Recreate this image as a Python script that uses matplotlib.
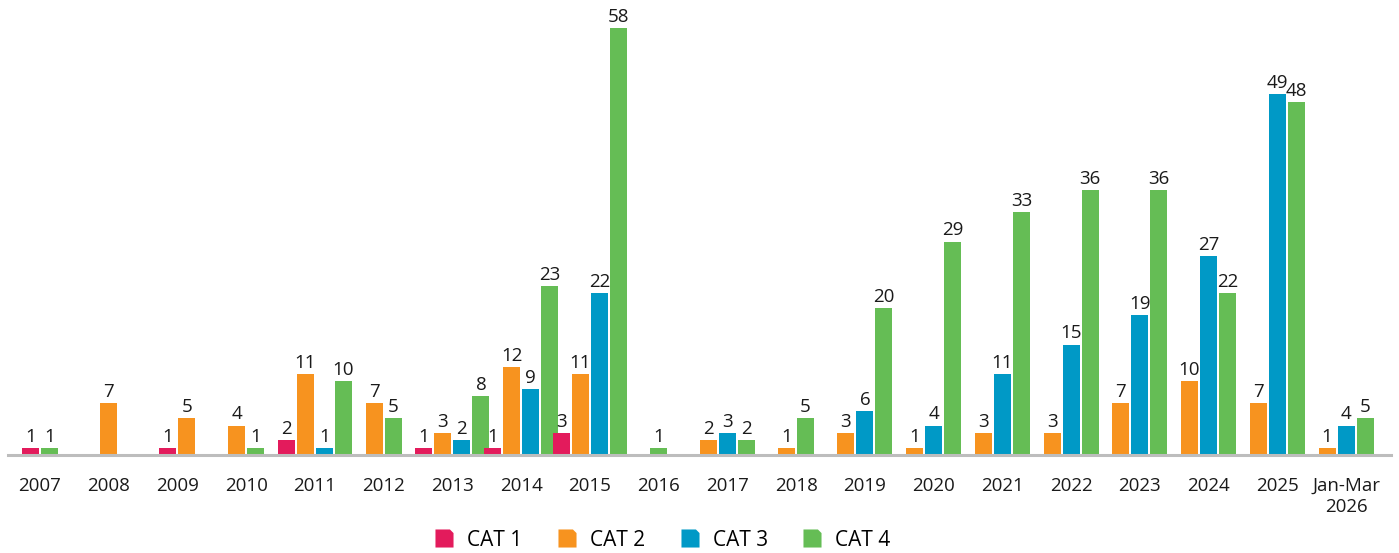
import matplotlib
matplotlib.use("Agg")
import matplotlib.pyplot as plt
from matplotlib.path import Path
from matplotlib.lines import Line2D

plt.rcParams['font.family'] = ['Open Sans', 'DejaVu Sans']

# data
years = ['2007', '2008', '2009', '2010', '2011', '2012', '2013', '2014', '2015', '2016',
         '2017', '2018', '2019', '2020', '2021', '2022', '2023', '2024', '2025', 'Jan-Mar\n2026']
cat1 = [1, 0, 1, 0, 2, 0, 1, 1, 3, 0, 0, 0, 0, 0, 0, 0, 0, 0, 0, 0]
cat2 = [0, 7, 5, 4, 11, 7, 3, 12, 11, 0, 2, 1, 3, 1, 3, 3, 7, 10, 7, 1]
cat3 = [0, 0, 0, 0, 1, 0, 2, 9, 22, 0, 3, 0, 6, 4, 11, 15, 19, 27, 49, 4]
cat4 = [1, 0, 0, 1, 10, 5, 8, 23, 58, 1, 2, 5, 20, 29, 33, 36, 36, 22, 48, 5]
series_names = ['CAT 1', 'CAT 2', 'CAT 3', 'CAT 4']
colors = ['#e31b5c', '#f7931f', '#0099c6', '#65bd55']

series = [cat1, cat2, cat3, cat4]

fig = plt.figure(figsize=(13.99, 5.53), dpi=100)
W, H = 1399, 553
ax = fig.add_axes([8 / W, (H - 455) / H, (1391 - 8) / W, (455 - 28) / H])

step = (1346 - 40) / 19.0       # px per group
bar_w = 17 / step
pitch = 19 / step

for i in range(len(years)):
    # only non-zero bars are drawn, packed together and centred on the group
    present = [k for k in range(4) if series[k][i] > 0]
    n = len(present)
    for j, k in enumerate(present):
        x = i + (j - (n - 1) / 2) * pitch
        v = series[k][i]
        ax.bar(x, v, width=bar_w, color=colors[k], linewidth=0, zorder=2)
        ax.annotate(str(v), (x, v), xytext=(0, 1.5), textcoords='offset points',
                    ha='center', va='bottom', fontsize=13.5, color='#1a1a1a')

ax.set_xlim((8 - 40) / step, 19 + (1391 - 1346) / step)
ax.set_ylim(0, 58)
ax.set_xticks(range(len(years)))
ax.set_xticklabels(years, fontsize=13.5, color='#1a1a1a', linespacing=1.2)
ax.tick_params(axis='x', length=0, pad=16)
ax.set_yticks([])
for s in ['top', 'right', 'left']:
    ax.spines[s].set_visible(False)
ax.spines['bottom'].set_color('#bdbdbd')
ax.spines['bottom'].set_linewidth(2.2)
ax.spines['bottom'].set_zorder(3)

# legend marker: square with a clipped top-right corner
tab = Path([(-1, -1), (1, -1), (1, 0.6), (0.6, 1), (-1, 1), (-1, -1)],
           [Path.MOVETO, Path.LINETO, Path.LINETO, Path.LINETO, Path.LINETO, Path.CLOSEPOLY])
handles = [Line2D([], [], marker=tab, linestyle='None', markersize=13,
                  markerfacecolor=c, markeredgewidth=0) for c in colors]
fig.legend(handles, series_names, loc='center', bbox_to_anchor=(662 / W, 1 - 540 / H),
           ncol=4, frameon=False, fontsize=15, handletextpad=0.6,
           columnspacing=1.65, handlelength=1.0)

fig.savefig('out.png', dpi=100)
